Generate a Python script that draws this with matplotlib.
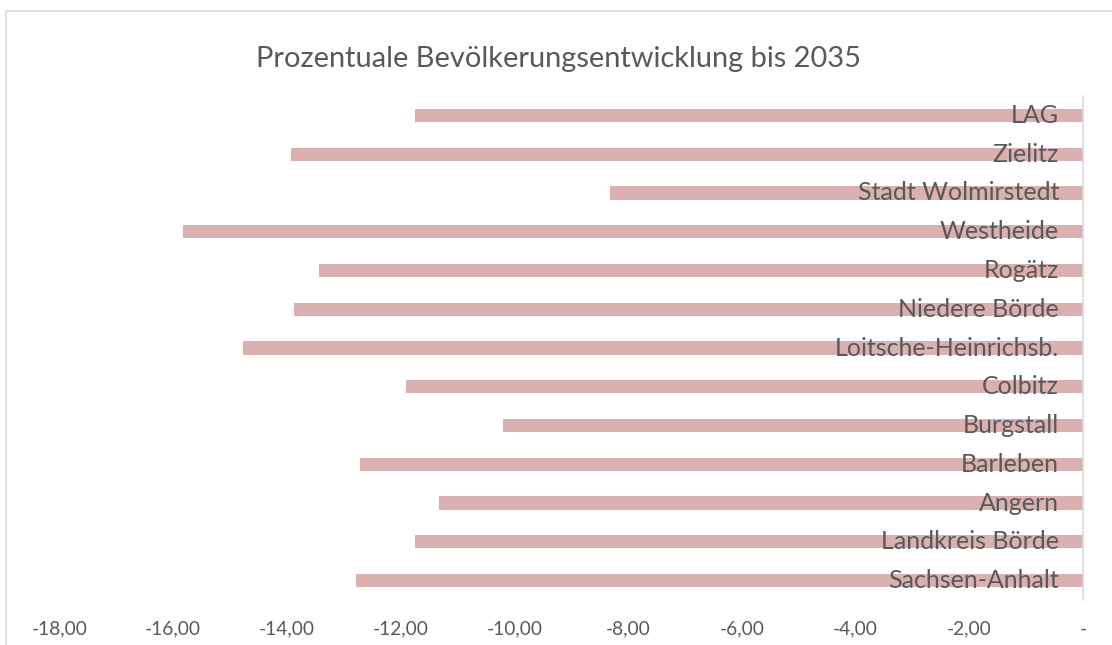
import matplotlib
matplotlib.use("Agg")
import matplotlib.pyplot as plt
from matplotlib.patches import Rectangle
from matplotlib.transforms import blended_transform_factory, offset_copy

categories = ["LAG", "Zielitz", "Stadt Wolmirstedt", "Westheide", "Rogätz",
              "Niedere Börde", "Loitsche-Heinrichsb.", "Colbitz", "Burgstall",
              "Barleben", "Angern", "Landkreis Börde", "Sachsen-Anhalt"]
values = [-11.74, -13.93, -8.32, -15.82, -13.44, -13.87, -14.78, -11.91,
          -10.20, -12.71, -11.32, -11.74, -12.78]
xticks = [-18, -16, -14, -12, -10, -8, -6, -4, -2, 0]
xticklabels = ["-18,00", "-16,00", "-14,00", "-12,00", "-10,00", "-8,00",
               "-6,00", "-4,00", "-2,00", "-"]
title = "Prozentuale Bevölkerungsentwicklung bis 2035"

FONT = "Lato"
TXT = "#595959"
BAR = "#DAB0B1"
GRID = "#D9D9D9"

fig = plt.figure(figsize=(11.12, 6.45), dpi=100)
fig.patch.set_facecolor("white")

# chart border (cropped on right and bottom)
fig.patches.append(Rectangle((6 / 1112, -0.1), 1.2, 1 - 11 / 645 + 0.1,
                             transform=fig.transFigure, fill=False,
                             edgecolor=GRID, linewidth=1.2))

ax = fig.add_axes([59.4 / 1112, 1 - 600 / 645, (1083 - 59.4) / 1112, (600 - 96) / 645])
n = len(categories)
ypos = list(range(n))
ax.barh(ypos, values, height=0.34, color=BAR, zorder=2)
ax.set_xlim(-18, 0)
ax.set_ylim(n - 0.5, -0.5)
ax.set_yticks([])
ax.set_xticks(xticks)
ax.set_xticklabels(xticklabels, fontfamily=FONT, fontsize=13.8, color=TXT)
ax.tick_params(axis="x", length=0, pad=15)
for s in ["top", "bottom", "left"]:
    ax.spines[s].set_visible(False)
ax.spines["right"].set_color(GRID)
ax.spines["right"].set_linewidth(1.2)

trans = offset_copy(blended_transform_factory(ax.transData, ax.transData),
                    fig=fig, x=-24, y=0, units="dots")
for y, c in zip(ypos, categories):
    ax.text(0, y, c, transform=trans, ha="right", va="center",
            fontfamily=FONT, fontsize=18, color=TXT, zorder=3)

fig.text(559 / 1112, 1 - 59 / 645, title, ha="center", va="center",
         fontfamily=FONT, fontsize=20.9, color=TXT)

fig.savefig("out.png", dpi=100)
